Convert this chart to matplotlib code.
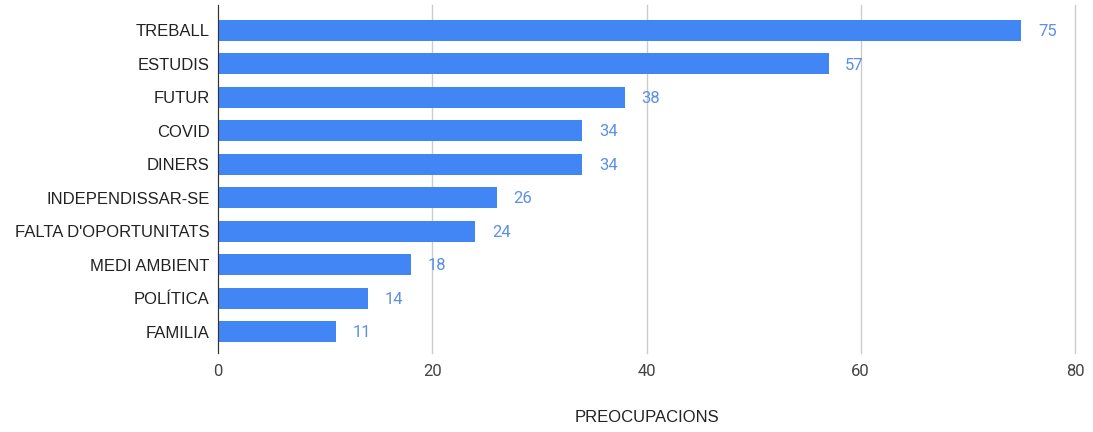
import matplotlib.pyplot as plt
import numpy as np

categories = ['TREBALL', 'ESTUDIS', 'FUTUR', 'COVID', 'DINERS', 'INDEPENDISSAR-SE',
              "FALTA D'OPORTUNITATS", 'MEDI AMBIENT', 'POLÍTICA', 'FAMILIA']
values = [75, 57, 38, 34, 34, 26, 24, 18, 14, 11]
xticks = [0, 20, 40, 60, 80]

plt.rcParams['font.family'] = ['Liberation Sans', 'DejaVu Sans']

fig = plt.figure(figsize=(10.93, 4.32), dpi=100)
ax = fig.add_axes([218 / 1093, 1 - 353 / 432, 857 / 1093, 348 / 432])

y = np.arange(len(categories))
ax.barh(y, values, height=0.63, color='#4285f4', zorder=3)

for yi, v in zip(y, values):
    ax.annotate(str(v), (v, yi), xytext=(12, -1), textcoords='offset points',
                va='center', ha='left', color='#5b8fe8', fontsize=12,
                family=['Roboto', 'DejaVu Sans'])

ax.set_xlim(0, 80)
ax.set_ylim(9.64, -0.75)
ax.set_yticks(y)
ax.set_yticklabels(categories, fontsize=12, color='#222222')
ax.set_xticks(xticks)
ax.set_xticklabels([str(t) for t in xticks], fontsize=12, color='#444444',
                   family=['Roboto', 'DejaVu Sans'])
ax.tick_params(axis='both', length=0)
ax.tick_params(axis='x', pad=8)
ax.tick_params(axis='y', pad=6)

ax.grid(axis='x', color='#cccccc', linewidth=1, zorder=0)
for gl in ax.get_xgridlines():
    gl.set_clip_on(False)
for s in ['top', 'right', 'bottom']:
    ax.spines[s].set_visible(False)
ax.spines['left'].set_color('#333333')
ax.spines['left'].set_zorder(4)

ax.set_xlabel('PREOCUPACIONS', fontsize=12, color='#222222', labelpad=22)

fig.savefig('out.png', dpi=100)
